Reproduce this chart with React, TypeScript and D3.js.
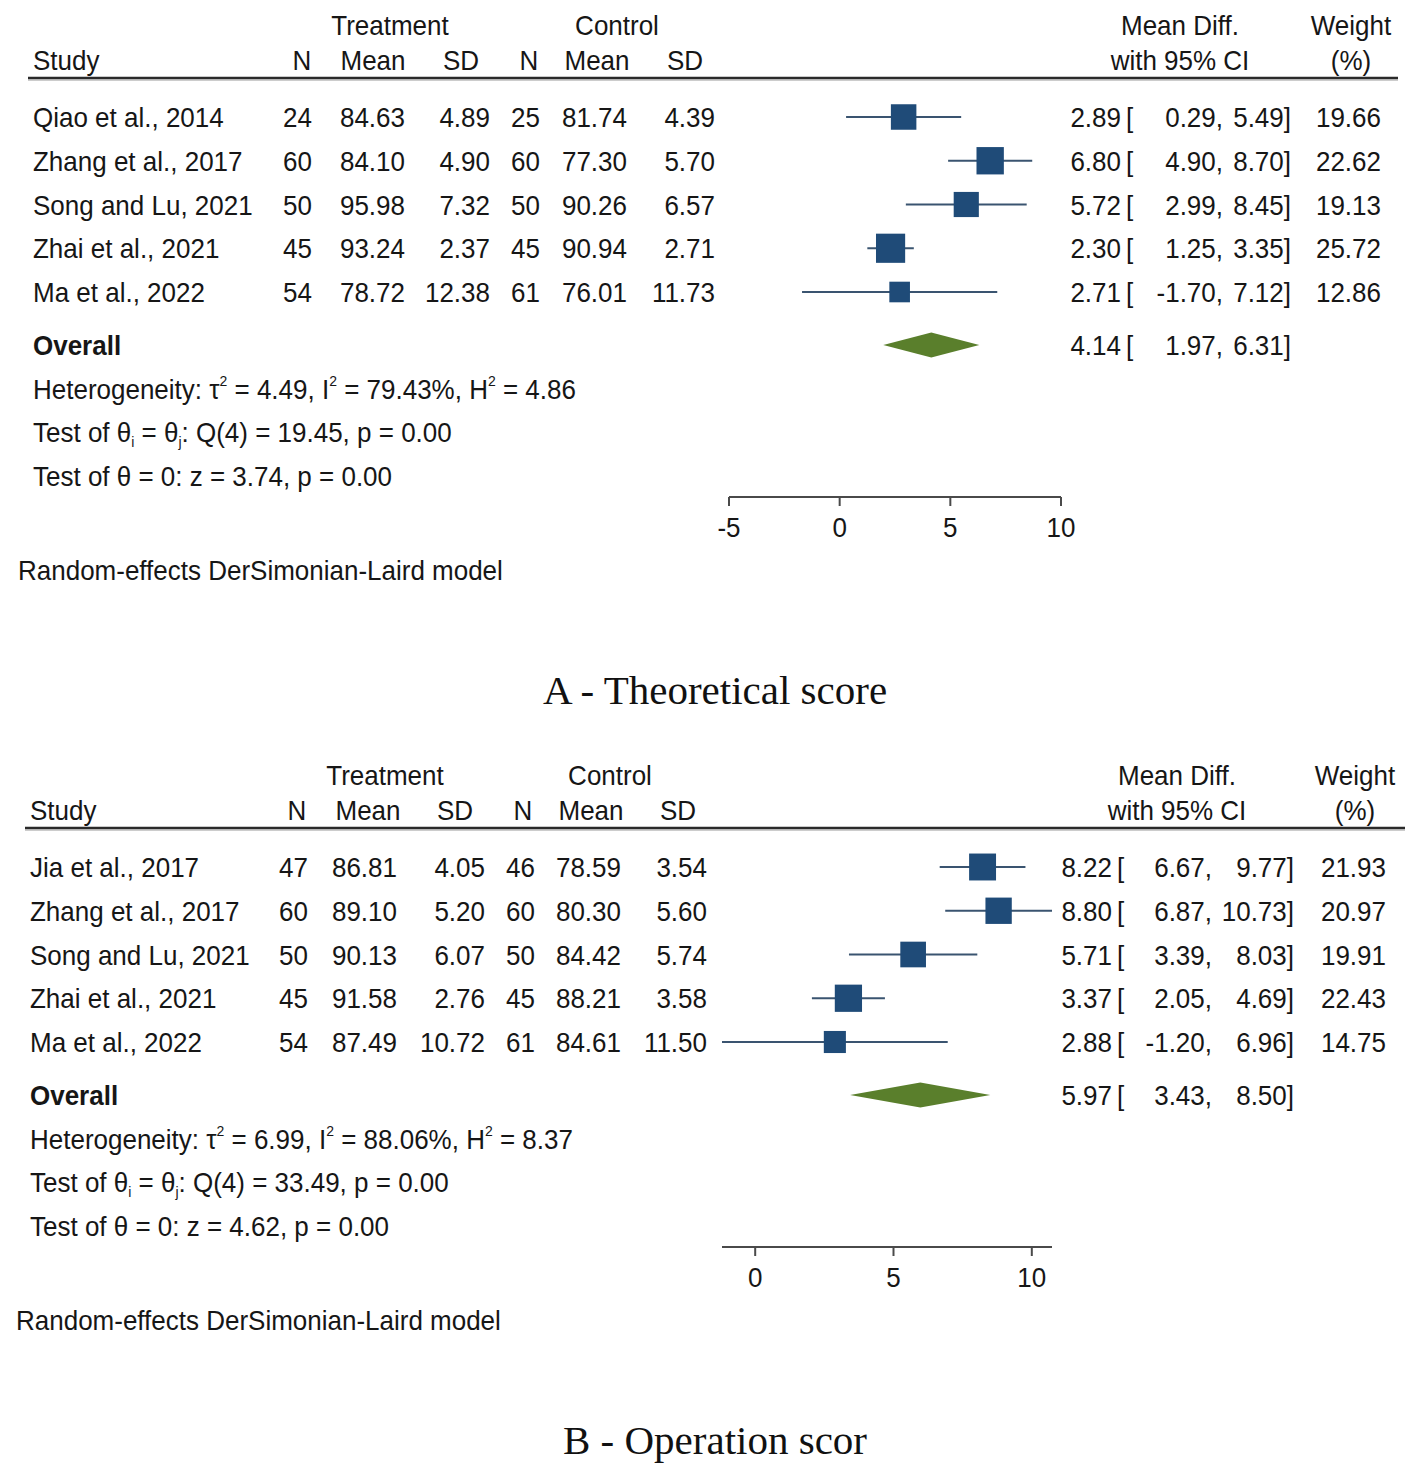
import React from 'react';
import * as d3 from 'd3';

// ---- Panel A: theoretical score ----
const studiesA = ['Qiao et al., 2014', 'Zhang et al., 2017', 'Song and Lu, 2021', 'Zhai et al., 2021', 'Ma et al., 2022'];
const nTreatA = [24, 60, 50, 45, 54];
const meanTreatA = ['84.63', '84.10', '95.98', '93.24', '78.72'];
const sdTreatA = ['4.89', '4.90', '7.32', '2.37', '12.38'];
const nCtrlA = [25, 60, 50, 45, 61];
const meanCtrlA = ['81.74', '77.30', '90.26', '90.94', '76.01'];
const sdCtrlA = ['4.39', '5.70', '6.57', '2.71', '11.73'];
const mdA = [2.89, 6.80, 5.72, 2.30, 2.71];
const lowA = [0.29, 4.90, 2.99, 1.25, -1.70];
const highA = [5.49, 8.70, 8.45, 3.35, 7.12];
const weightA = [19.66, 22.62, 19.13, 25.72, 12.86];
const overallA = [4.14, 1.97, 6.31];
const ticksA = [-5, 0, 5, 10];
const statsA = { tau2: '4.49', i2: '79.43%', h2: '4.86', q: '19.45', z: '3.74' };

// ---- Panel B: operation score ----
const studiesB = ['Jia et al., 2017', 'Zhang et al., 2017', 'Song and Lu, 2021', 'Zhai et al., 2021', 'Ma et al., 2022'];
const nTreatB = [47, 60, 50, 45, 54];
const meanTreatB = ['86.81', '89.10', '90.13', '91.58', '87.49'];
const sdTreatB = ['4.05', '5.20', '6.07', '2.76', '10.72'];
const nCtrlB = [46, 60, 50, 45, 61];
const meanCtrlB = ['78.59', '80.30', '84.42', '88.21', '84.61'];
const sdCtrlB = ['3.54', '5.60', '5.74', '3.58', '11.50'];
const mdB = [8.22, 8.80, 5.71, 3.37, 2.88];
const lowB = [6.67, 6.87, 3.39, 2.05, -1.20];
const highB = [9.77, 10.73, 8.03, 4.69, 6.96];
const weightB = [21.93, 20.97, 19.91, 22.43, 14.75];
const overallB = [5.97, 3.43, 8.50];
const ticksB = [0, 5, 10];
const statsB = { tau2: '6.99', i2: '88.06%', h2: '8.37', q: '33.49', z: '4.62' };

const FONT = '"Liberation Sans", Arial, sans-serif';
const FS = 26;
const STRETCH = 1.08; // reference glyphs are a little taller than wide
const TEXT = '#161616';
const BOX = '#1f4b78';
const CI = '#3a5470';
const DIAMOND = '#5a7f2c';

const fmt = (v: number) => v.toFixed(2);

// text drawn at (x, baseline y) and stretched vertically about its baseline
const T: React.FC<React.SVGProps<SVGTextElement> & { x: number; y: number }> = ({ x, y, children, ...rest }) => (
  <text transform={`translate(${x},${y}) scale(1,${STRETCH})`} {...rest}>{children}</text>
);

interface Layout {
  top: number;
  studyX: number;
  colRight: number[];
  headCenter: number[];
  treatX: number;
  ctrlX: number;
  mdHeadX: number;
  wHeadX: number;
  estRight: number;
  bracketX: number;
  lowRight: number;
  highRight: number;
  wRight: number;
  plot: [number, number];
  rule: [number, number];
  footX: number;
  title: string;
}

interface PanelProps {
  layout: Layout;
  studies: string[];
  cols: (string | number)[][];
  md: number[];
  low: number[];
  high: number[];
  weight: number[];
  overall: number[];
  ticks: number[];
  stats: { tau2: string; i2: string; h2: string; q: string; z: string };
}

const Panel: React.FC<PanelProps> = ({ layout: L, studies, cols, md, low, high, weight, overall, ticks, stats }) => {
  const t = L.top;
  const lo = Math.min(d3.min(ticks)!, d3.min(low)!);
  const hi = Math.max(d3.max(ticks)!, d3.max(high)!);
  const x = d3.scaleLinear().domain([lo, hi]).range(L.plot);
  const y = d3.scalePoint<string>().domain(studies).range([t + 117, t + 292]);
  const boxSize = (w: number) => 5.75 * Math.sqrt(w);
  const base = 10; // cap-centre to baseline offset

  const overallY = t + 345;
  const axisY = t + 497;
  const diamond = d3.line<[number, number]>()([
    [x(overall[1]), overallY],
    [x(overall[0]), overallY - 12.5],
    [x(overall[2]), overallY],
    [x(overall[0]), overallY + 12.5],
  ]) + 'Z';

  const headers = ['N', 'Mean', 'SD', 'N', 'Mean', 'SD'];

  return (
    <g fontFamily={FONT} fontSize={FS} fill={TEXT}>
      {/* column headers */}
      <T x={L.treatX} y={t + 25 + base} textAnchor="middle">Treatment</T>
      <T x={L.ctrlX} y={t + 25 + base} textAnchor="middle">Control</T>
      <T x={L.mdHeadX} y={t + 25 + base} textAnchor="middle">Mean Diff.</T>
      <T x={L.wHeadX} y={t + 25 + base} textAnchor="middle">Weight</T>
      <T x={L.studyX} y={t + 60 + base}>Study</T>
      {headers.map((h, i) => (
        <T key={i} x={L.headCenter[i]} y={t + 60 + base} textAnchor="middle">{h}</T>
      ))}
      <T x={L.mdHeadX} y={t + 60 + base} textAnchor="middle">with 95% CI</T>
      <T x={L.wHeadX} y={t + 60 + base} textAnchor="middle">(%)</T>
      <line x1={L.rule[0]} x2={L.rule[1]} y1={t + 78} y2={t + 78} stroke="#2a2a2a" strokeWidth={2.5} />
      <line x1={L.rule[0]} x2={L.rule[1]} y1={t + 80} y2={t + 80} stroke="#9a9a9a" strokeWidth={1} />

      {/* study rows */}
      {studies.map((s, i) => {
        const cy = y(s)!;
        const b = boxSize(weight[i]);
        return (
          <g key={s}>
            <T x={L.studyX} y={cy + base}>{s}</T>
            {cols.map((c, j) => (
              <T key={j} x={L.colRight[j]} y={cy + base} textAnchor="end">{c[i]}</T>
            ))}
            <line x1={x(low[i])} x2={x(high[i])} y1={cy} y2={cy} stroke={CI} strokeWidth={2} />
            <rect x={x(md[i]) - b / 2} y={cy - b / 2} width={b} height={b} fill={BOX} />
            <T x={L.estRight} y={cy + base} textAnchor="end">{fmt(md[i])}</T>
            <T x={L.bracketX} y={cy + base}>[</T>
            <T x={L.lowRight} y={cy + base} textAnchor="end">{fmt(low[i])},</T>
            <T x={L.highRight} y={cy + base} textAnchor="end">{fmt(high[i])}]</T>
            <T x={L.wRight} y={cy + base} textAnchor="end">{fmt(weight[i])}</T>
          </g>
        );
      })}

      {/* overall */}
      <T x={L.studyX} y={overallY + base} fontWeight="bold">Overall</T>
      <path d={diamond} fill={DIAMOND} />
      <T x={L.estRight} y={overallY + base} textAnchor="end">{fmt(overall[0])}</T>
      <T x={L.bracketX} y={overallY + base}>[</T>
      <T x={L.lowRight} y={overallY + base} textAnchor="end">{fmt(overall[1])},</T>
      <T x={L.highRight} y={overallY + base} textAnchor="end">{fmt(overall[2])}]</T>

      {/* heterogeneity statistics */}
      <T x={L.studyX} y={t + 389 + base}>
        <tspan>Heterogeneity: τ</tspan>
        <tspan fontSize={14} dy={-12}>2</tspan>
        <tspan dy={12}>{` = ${stats.tau2}, I`}</tspan>
        <tspan fontSize={14} dy={-12}>2</tspan>
        <tspan dy={12}>{` = ${stats.i2}, H`}</tspan>
        <tspan fontSize={14} dy={-12}>2</tspan>
        <tspan dy={12}>{` = ${stats.h2}`}</tspan>
      </T>
      <T x={L.studyX} y={t + 432 + base}>
        <tspan>Test of θ</tspan>
        <tspan fontSize={14} dy={5}>i</tspan>
        <tspan dy={-5}> = θ</tspan>
        <tspan fontSize={14} dy={5}>j</tspan>
        <tspan dy={-5}>{`: Q(4) = ${stats.q}, p = 0.00`}</tspan>
      </T>
      <T x={L.studyX} y={t + 476 + base}>{`Test of θ = 0: z = ${stats.z}, p = 0.00`}</T>

      {/* axis */}
      <line x1={x(lo)} x2={x(hi)} y1={axisY} y2={axisY} stroke="#4a4a4a" strokeWidth={2} />
      {ticks.map(v => (
        <g key={v}>
          <line x1={x(v)} x2={x(v)} y1={axisY} y2={axisY + 9} stroke="#4a4a4a" strokeWidth={2} />
          <T x={x(v)} y={axisY + 30 + base} textAnchor="middle">{v}</T>
        </g>
      ))}

      <T x={L.footX} y={t + 570 + base}>Random-effects DerSimonian-Laird model</T>

      <text x={715} y={t + 704} textAnchor="middle" fontFamily='"Liberation Serif", "Times New Roman", serif' fontSize={41} fill="#111">
        {L.title}
      </text>
    </g>
  );
};

const layoutA: Layout = {
  top: 0,
  studyX: 33,
  colRight: [312, 405, 490, 540, 627, 715],
  headCenter: [302, 373, 461, 529, 597, 685],
  treatX: 390,
  ctrlX: 617,
  mdHeadX: 1180,
  wHeadX: 1351,
  estRight: 1121,
  bracketX: 1126,
  lowRight: 1223,
  highRight: 1291,
  wRight: 1381,
  plot: [729, 1061],
  rule: [28, 1398],
  footX: 18,
  title: 'A - Theoretical score',
};

const layoutB: Layout = {
  top: 750,
  studyX: 30,
  colRight: [308, 397, 485, 535, 621, 707],
  headCenter: [297, 368, 455, 523, 591, 678],
  treatX: 385,
  ctrlX: 610,
  mdHeadX: 1177,
  wHeadX: 1355,
  estRight: 1112,
  bracketX: 1117,
  lowRight: 1212,
  highRight: 1294,
  wRight: 1386,
  plot: [722, 1052],
  rule: [25, 1405],
  footX: 16,
  title: 'B - Operation scor',
};

export default function App() {
  return (
    <svg width={1418} height={1469} style={{ position: 'absolute', left: 0, top: 0, background: '#fff' }}>
      <rect width={1418} height={1469} fill="#fff" />
      <Panel
        layout={layoutA}
        studies={studiesA}
        cols={[nTreatA, meanTreatA, sdTreatA, nCtrlA, meanCtrlA, sdCtrlA]}
        md={mdA}
        low={lowA}
        high={highA}
        weight={weightA}
        overall={overallA}
        ticks={ticksA}
        stats={statsA}
      />
      <Panel
        layout={layoutB}
        studies={studiesB}
        cols={[nTreatB, meanTreatB, sdTreatB, nCtrlB, meanCtrlB, sdCtrlB]}
        md={mdB}
        low={lowB}
        high={highB}
        weight={weightB}
        overall={overallB}
        ticks={ticksB}
        stats={statsB}
      />
    </svg>
  );
}
